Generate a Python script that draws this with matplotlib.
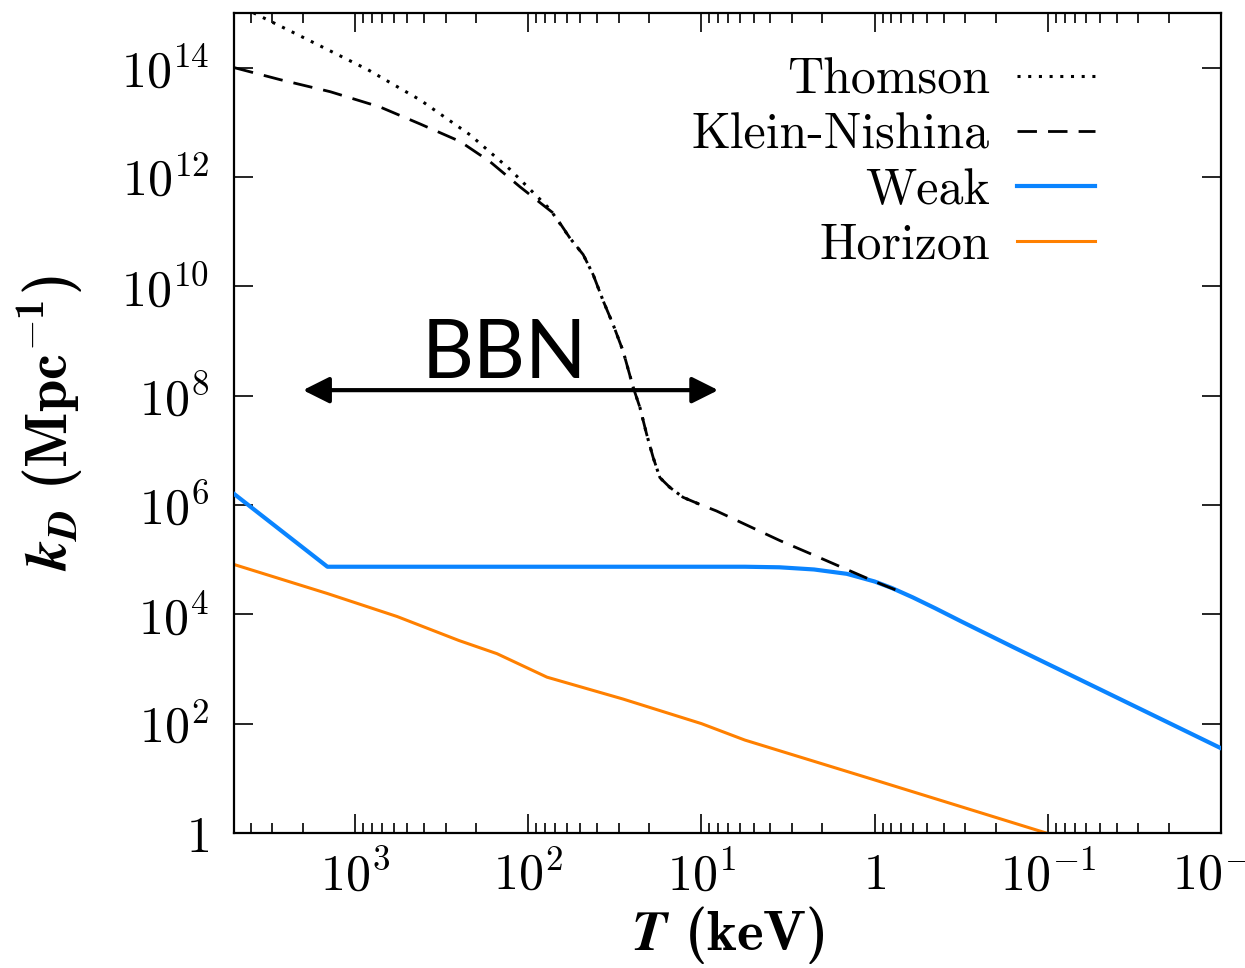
import numpy as np
import matplotlib
matplotlib.use('Agg')
import matplotlib.pyplot as plt
from matplotlib.ticker import FuncFormatter, NullLocator, LogLocator

plt.rcParams['mathtext.fontset'] = 'cm'
plt.rcParams['axes.formatter.use_mathtext'] = True
# fonts for the 'custom' math family used by the axis labels
plt.rcParams['mathtext.rm'] = 'cmr10'
plt.rcParams['mathtext.bf'] = 'cmb10'
plt.rcParams['mathtext.bfit'] = 'STIXGeneral:italic:bold'

# log10 T (keV) and log10 k_D (Mpc^-1)
thomson_logT = [3.698, 3.56, 3.317, 2.925, 2.625, 2.336, 2.106, 1.875, 1.759,
                1.683, 1.625, 1.567, 1.510, 1.452, 1.394, 1.355, 1.317, 1.279,
                1.240, 1.182, 1.106, 1.009]
thomson_logk = [15.18, 14.96, 14.58, 13.96, 13.41, 12.77, 12.14, 11.41, 10.88,
                10.58, 10.21, 9.73, 9.30, 8.81, 8.15, 7.78, 7.30, 6.87,
                6.50, 6.32, 6.14, 6.01]

kn_logT = [3.698, 3.433, 3.144, 2.856, 2.625, 2.394, 2.221, 2.048, 1.856, 1.759,
           1.683, 1.625, 1.567, 1.510, 1.452, 1.394, 1.355, 1.317, 1.279,
           1.240, 1.182, 1.106, 1.009, 0.913, 0.548, 0.357, 0.161, 0.0, -0.15]
kn_logk = [14.00, 13.78, 13.56, 13.28, 12.97, 12.65, 12.28, 11.82, 11.34, 10.88,
           10.58, 10.21, 9.73, 9.30, 8.81, 8.15, 7.78, 7.30, 6.87,
           6.50, 6.32, 6.14, 6.01, 5.89, 5.35, 5.09, 4.82, 4.60, 4.41]

weak_logT = [3.698, 3.16, 2.5, 1.5, 0.75, 0.55, 0.35, 0.16, 0.0, -0.1, -0.22,
             -0.35, -0.5, -0.8, -2.0]
weak_logk = [6.20, 4.87, 4.87, 4.87, 4.87, 4.86, 4.82, 4.74, 4.60, 4.48, 4.31,
             4.11, 3.87, 3.40, 1.55]

horizon_logT = [3.698, 3.16, 2.758, 2.40, 2.181, 1.892, 1.453, 1.0, 0.75, 0.0, -0.99]
horizon_logk = [4.91, 4.38, 3.96, 3.52, 3.28, 2.85, 2.45, 2.0, 1.70, 0.97, 0.0]

bbn_span = [2000, 8]      # keV, arrow ends
bbn_level = 1.26e8
bbn_label_T = 138
bbn_label_k = 2.1e8

fig = plt.figure(figsize=(12.45, 9.68), dpi=100)
ax = fig.add_axes([0.188, 0.1395, 0.7927, 0.8471])

def pw(a):
    return 10 ** np.array(a)

ax.plot(pw(horizon_logT), pw(horizon_logk), color='#ff8000', lw=2.2, label='Horizon', zorder=2)
ax.plot(pw(weak_logT), pw(weak_logk), color='#0a84ff', lw=3.0, label='Weak', zorder=3)
ax.plot(pw(kn_logT), pw(kn_logk), color='black', lw=2.0, dashes=(7, 4), label='Klein-Nishina', zorder=4)
ax.plot(pw(thomson_logT), pw(thomson_logk), color='black', lw=2.2, dashes=(1, 2.5), label='Thomson', zorder=4)

ax.set_xscale('log')
ax.set_yscale('log')
ax.set_xlim(5000, 0.01)
ax.set_ylim(1, 1e15)

ax.set_yticks([10.0 ** e for e in range(0, 15, 2)])
ax.yaxis.set_minor_locator(NullLocator())
ax.xaxis.set_major_locator(LogLocator(base=10))
ax.xaxis.set_minor_locator(LogLocator(base=10, subs=np.arange(2, 10)))

def log_label(v, pos):
    e = int(round(np.log10(v)))
    return '$1$' if e == 0 else r'$10^{%d}$' % e

ax.xaxis.set_major_formatter(FuncFormatter(log_label))
ax.yaxis.set_major_formatter(FuncFormatter(log_label))

ax.tick_params(which='both', direction='in', top=True, right=True, width=1.2, labelsize=36)
ax.tick_params(which='major', length=14)
ax.tick_params(which='minor', length=7)
ax.tick_params(axis='x', pad=13)
ax.tick_params(axis='y', pad=18)
for s in ax.spines.values():
    s.set_linewidth(1.6)

ax.set_xlabel(r'$\mathbfit{T}\ \mathbf{(keV)}$', math_fontfamily='custom', fontsize=41, labelpad=3)
ax.set_ylabel(r'$\mathbfit{k}_{\mathbfit{D}}\ \mathbf{(Mpc^{-1})}$', math_fontfamily='custom',
              fontsize=42, labelpad=26)

ax.annotate('', xy=(bbn_span[1], bbn_level), xytext=(bbn_span[0], bbn_level),
            arrowprops=dict(arrowstyle='<|-|>', color='black', lw=3, mutation_scale=40,
                            shrinkA=0, shrinkB=0))
ax.text(bbn_label_T, bbn_label_k, 'BBN', fontsize=58, fontfamily='Lato',
        ha='center', va='baseline')

handles, labels = ax.get_legend_handles_labels()
order = [3, 2, 1, 0]
leg = ax.legend([handles[i] for i in order], [labels[i] for i in order],
                loc='upper right', bbox_to_anchor=(0.872, 0.945), frameon=False,
                markerfirst=False, handlelength=1.55, handletextpad=0.55,
                labelspacing=0.18, borderpad=0, borderaxespad=0,
                prop={'family': 'cmr10', 'size': 36})

fig.savefig('out.png', dpi=100)
